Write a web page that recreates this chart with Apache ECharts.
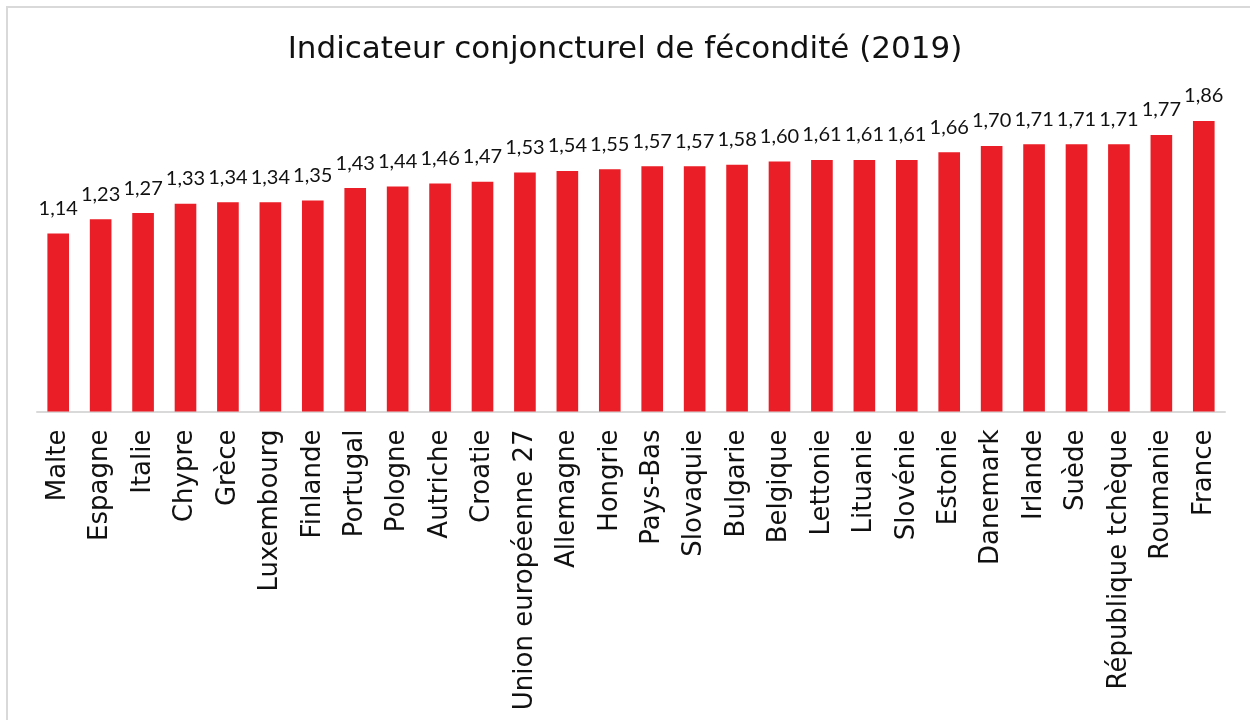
<!DOCTYPE html>
<html>
<head>
<meta charset="utf-8">
<script src="https://cdn.jsdelivr.net/npm/echarts@6/dist/echarts.min.js"></script>
<style>
html,body{margin:0;padding:0;background:#fff;}
#chart{width:1250px;height:720px;}
</style>
</head>
<body>
<div id="chart"></div>
<script>
const titleText = 'Indicateur conjoncturel de fécondité (2019)';
const categories = ['Malte','Espagne','Italie','Chypre','Grèce','Luxembourg','Finlande','Portugal','Pologne','Autriche','Croatie','Union européenne 27','Allemagne','Hongrie','Pays-Bas','Slovaquie','Bulgarie','Belgique','Lettonie','Lituanie','Slovénie','Estonie','Danemark','Irlande','Suède','République tchèque','Roumanie','France'];
const values = [1.14,1.23,1.27,1.33,1.34,1.34,1.35,1.43,1.44,1.46,1.47,1.53,1.54,1.55,1.57,1.57,1.58,1.60,1.61,1.61,1.61,1.66,1.70,1.71,1.71,1.71,1.77,1.86];

const FONT = '"DejaVu Sans", sans-serif';
const NUMFONT = 'Lato, "Noto Sans", sans-serif';
const chart = echarts.init(document.getElementById('chart'), null, {renderer:'canvas'});
chart.setOption({
  backgroundColor:'#fff',
  animation:false,
  title:{
    text:titleText,
    left:'center', top:29,
    textStyle:{fontFamily:FONT,fontSize:31,fontWeight:'normal',color:'#111'}
  },
  graphic:[{
    type:'rect', shape:{x:7,y:7,width:1260,height:730},
    style:{fill:'none',stroke:'#d9d9d9',lineWidth:2}, silent:true
  }],
  grid:{left:37,right:25,top:99,bottom:308.5,containLabel:false},
  xAxis:{
    type:'category', data:categories,
    axisLine:{show:true,lineStyle:{color:'#d9d9d9',width:2}},
    axisTick:{show:false},
    axisLabel:{
      rotate:90, interval:0, margin:18,
      fontFamily:FONT, fontSize:26, color:'#111'
    }
  },
  yAxis:{
    type:'value', min:0, max:2,
    show:false, splitLine:{show:false}
  },
  series:[{
    type:'bar', data:values, barWidth:'51%',
    itemStyle:{color:'#E91E26'},
    label:{
      show:true, position:'top', distance:15,
      fontFamily:NUMFONT, fontSize:20, color:'#111',
      formatter:p=>p.value.toFixed(2).replace('.',',')
    }
  }]
});
</script>
</body>
</html>
